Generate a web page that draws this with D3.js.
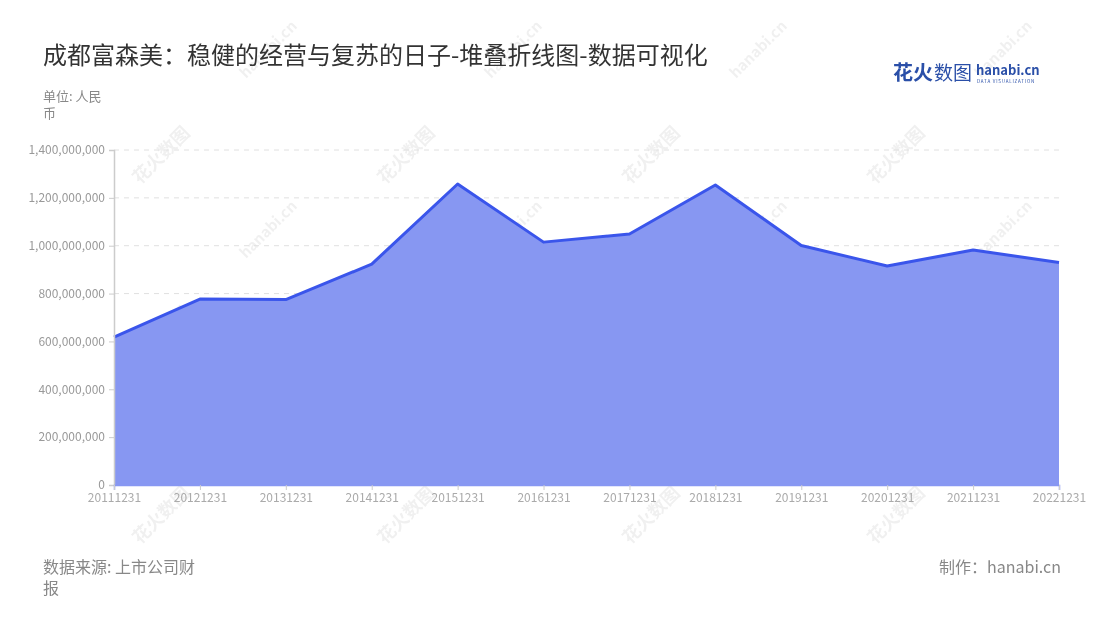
<!DOCTYPE html>
<html><head><meta charset="utf-8">
<script src="https://cdn.jsdelivr.net/npm/d3@7"></script>
<style>body{margin:0;background:#fff;font-family:"Noto Sans CJK SC","Noto Sans",sans-serif;}</style>
</head><body><svg id="c" width="1100" height="620"></svg>
<script>
const categories = ["20111231","20121231","20131231","20141231","20151231","20161231","20171231","20181231","20191231","20201231","20211231","20221231"];
const values = [618000000,777000000,775000000,923000000,1258000000,1015000000,1049000000,1254000000,1001000000,915000000,982000000,930000000];
const yTicks = [0,200000000,400000000,600000000,800000000,1000000000,1200000000,1400000000];

const svg = d3.select("#c");
const font = '"Noto Sans CJK SC","Noto Sans",sans-serif';
const L=114,R=1059,T=150,B=485;
const x = d3.scalePoint().domain(categories).range([L,R]);
const y = d3.scaleLinear().domain([0,1400000000]).range([B,T]);

// watermarks
const wm = svg.append("g").attr("opacity",0.06).attr("font-family",font).attr("fill","#000");
[[140,185],[385,185],[630,185],[875,185],[140,365],[385,365],[630,365],[875,365],[140,545],[385,545],[630,545],[875,545]].forEach(([cx,cy])=>{
  const g = wm.append("g").attr("transform",`translate(${cx},${cy}) rotate(-45)`);
  g.append("text").attr("x",0).attr("y",0).attr("font-size",18).attr("font-weight","bold").text("花火数图");
  g.append("text").attr("x",150).attr("y",0).attr("font-size",15).attr("font-weight","bold").text("hanabi.cn");
});

// grid
svg.append("g").selectAll("line").data(yTicks.slice(1)).join("line")
  .attr("x1",L).attr("x2",R).attr("y1",d=>y(d)).attr("y2",d=>y(d))
  .attr("stroke","#e0e0e0").attr("stroke-dasharray","5,5");

// area + line
svg.append("path").datum(values)
  .attr("d",d3.area().x((d,i)=>x(categories[i])).y0(B).y1(d=>y(d)))
  .attr("fill","#8797f2");
svg.append("path").datum(values)
  .attr("d",d3.line().x((d,i)=>x(categories[i])).y(d=>y(d)))
  .attr("fill","none").attr("stroke","#3a55eb").attr("stroke-width",3).attr("stroke-linejoin","round");

// y axis
const ya = svg.append("g").attr("transform",`translate(${L},0)`)
  .call(d3.axisLeft(y).tickValues(yTicks).tickSize(5).tickPadding(4).tickFormat(d3.format(",")));
ya.select(".domain").attr("stroke","#ccc").attr("stroke-width",1.5);
ya.selectAll(".tick line").attr("stroke","#ccc");
ya.selectAll("text").attr("fill","#999").attr("font-size",12).attr("font-family",font);

// x axis
const xa = svg.append("g").attr("transform",`translate(0,${B})`)
  .call(d3.axisBottom(x).tickSize(5).tickPadding(3));
xa.select(".domain").attr("stroke","#8797f2").attr("stroke-width",1.5);
xa.selectAll(".tick line").attr("stroke","#ccc");
xa.selectAll("text").attr("fill","#aaa").attr("font-size",12).attr("font-family",font);

// title
svg.append("text").attr("x",43).attr("y",64).attr("font-size",24).attr("fill","#333").attr("font-family",font)
  .text("成都富森美：稳健的经营与复苏的日子-堆叠折线图-数据可视化");
svg.append("text").attr("x",43).attr("y",101).attr("font-size",13).attr("fill","#888").attr("font-family",font).text("单位: 人民");
svg.append("text").attr("x",43).attr("y",118).attr("font-size",13).attr("fill","#888").attr("font-family",font).text("币");

// footer
svg.append("text").attr("x",43).attr("y",573).attr("font-size",16).attr("fill","#888").attr("font-family",font).text("数据来源: 上市公司财");
svg.append("text").attr("x",43).attr("y",594).attr("font-size",16).attr("fill","#888").attr("font-family",font).text("报");
svg.append("text").attr("x",1061).attr("y",573).attr("text-anchor","end").attr("font-size",16).attr("fill","#888").attr("font-family",font).text("制作：hanabi.cn");

// logo
svg.append("text").attr("x",893).attr("y",80).attr("font-size",20).attr("font-weight","bold").attr("fill","#2a4fa8").attr("font-family",font).text("花火");
svg.append("text").attr("x",934).attr("y",80).attr("font-size",19).attr("fill","#2a4fa8").attr("font-family",font).text("数图");
svg.append("text").attr("x",976).attr("y",75).attr("font-size",13).attr("font-weight","bold").attr("fill","#2a4fa8").attr("font-family",font).text("hanabi.cn");
svg.append("text").attr("x",977).attr("y",82.5).attr("font-size",4.5).attr("fill","#2a4fa8").attr("font-family",font).attr("letter-spacing",0.8).text("DATA VISUALIZATION");
</script></body></html>
